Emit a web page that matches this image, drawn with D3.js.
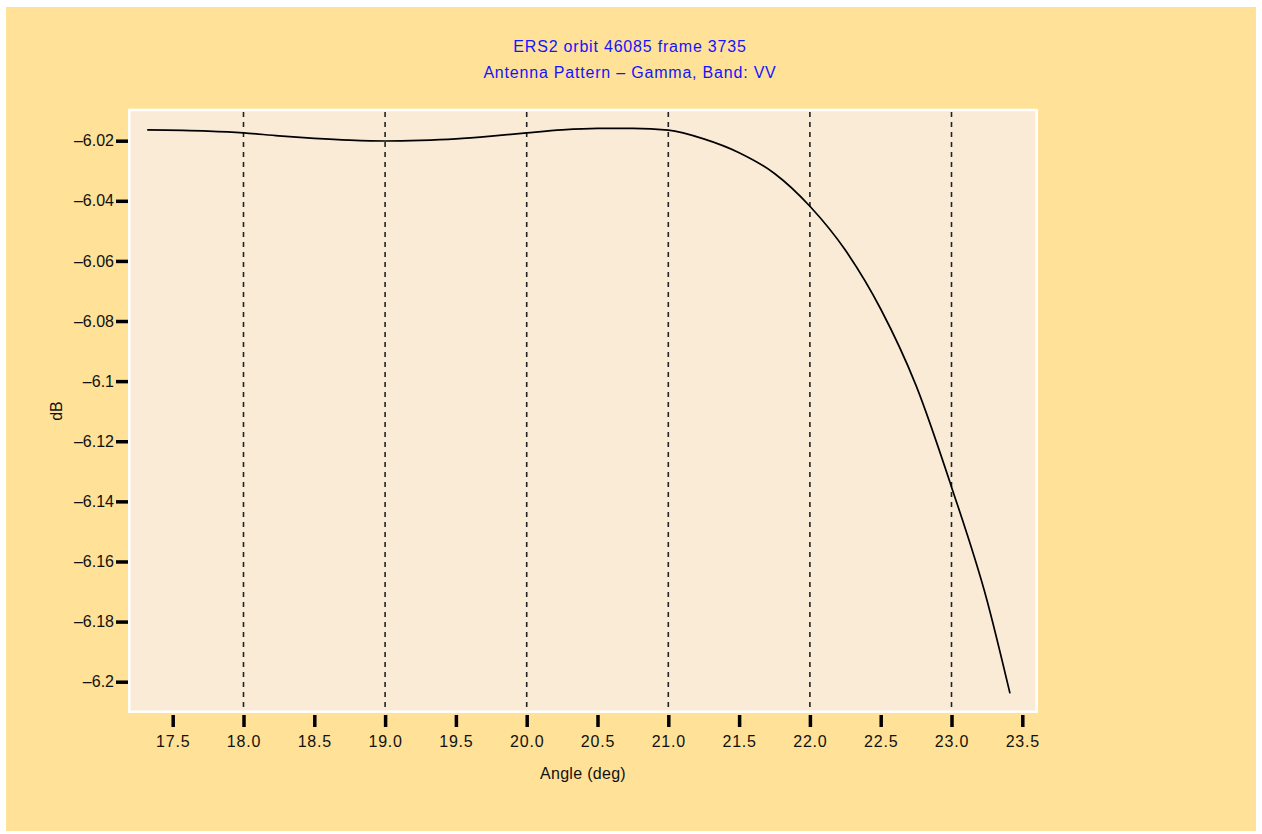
<!DOCTYPE html>
<html>
<head>
<meta charset="utf-8">
<script src="https://cdn.jsdelivr.net/npm/d3@7"></script>
<style>
  html, body { margin: 0; padding: 0; background: #ffffff; }
  svg { display: block; }
  text { font-family: "Liberation Sans", Arial, Helvetica, sans-serif; }
</style>
</head>
<body>
<svg id="chart" width="1262" height="834"></svg>
<script>
// ---- data ----
const titleLines = ["ERS2 orbit 46085 frame 3735", "Antenna Pattern \u2013 Gamma, Band: VV"];
const xAxisTitle = "Angle (deg)";
const yAxisTitle = "dB";
const angles = [17.32, 17.75, 18.0, 18.25, 18.5, 18.75, 19.0, 19.25, 19.5, 19.75, 20.0, 20.25, 20.5, 20.75,
  21.0, 21.25, 21.5, 21.75, 22.0, 22.25, 22.5, 22.75, 23.0, 23.25, 23.413];
const gainDb = [-6.0164, -6.0168, -6.0174, -6.0184, -6.0192, -6.0198, -6.0201, -6.0199, -6.0194, -6.0185,
  -6.0174, -6.0164, -6.0159, -6.0159, -6.0165, -6.0194, -6.0240, -6.0309, -6.0418, -6.0564, -6.0760,
  -6.1015, -6.1352, -6.1728, -6.2039];
const xTicks = [17.5, 18.0, 18.5, 19.0, 19.5, 20.0, 20.5, 21.0, 21.5, 22.0, 22.5, 23.0, 23.5];
const xTickLabels = ["17.5", "18.0", "18.5", "19.0", "19.5", "20.0", "20.5", "21.0", "21.5", "22.0", "22.5", "23.0", "23.5"];
const yTicks = [-6.02, -6.04, -6.06, -6.08, -6.1, -6.12, -6.14, -6.16, -6.18, -6.2];
const yTickLabels = ["\u20136.02", "\u20136.04", "\u20136.06", "\u20136.08", "\u20136.1", "\u20136.12", "\u20136.14", "\u20136.16", "\u20136.18", "\u20136.2"];
const gridX = [18, 19, 20, 21, 22, 23];

// ---- layout ----
const svg = d3.select("#chart");
const plot = { left: 129.3, right: 1036.7, top: 110, bottom: 711.7 };

svg.append("rect").attr("x", 6).attr("y", 7).attr("width", 1250).attr("height", 824).attr("fill", "#FFE197");

const x = d3.scaleLinear().domain([17.1935, 23.6017]).range([plot.left, plot.right]);
const y = d3.scaleLinear().domain([-6.20998, -6.00979]).range([plot.bottom, plot.top]);

svg.append("rect")
  .attr("x", plot.left).attr("y", plot.top)
  .attr("width", plot.right - plot.left).attr("height", plot.bottom - plot.top)
  .attr("fill", "#FAEBD7").attr("stroke", "#ffffff").attr("stroke-width", 2.5);

// grid
svg.append("g").selectAll("line").data(gridX).join("line")
  .attr("x1", d => x(d)).attr("x2", d => x(d))
  .attr("y1", plot.top + 2).attr("y2", plot.bottom - 1)
  .attr("stroke", "#222").attr("stroke-width", 1.6).attr("stroke-dasharray", "5,5");

// axes
const xAxis = d3.axisBottom(x).tickValues(xTicks).tickSize(12).tickPadding(9)
  .tickFormat((d, i) => xTickLabels[i]);
const gx = svg.append("g").attr("transform", `translate(0,${plot.bottom + 3.3})`).call(xAxis);
gx.select(".domain").remove();
gx.selectAll(".tick line").attr("stroke", "#000").attr("stroke-width", 3.5);
gx.selectAll(".tick text").attr("font-size", 16).attr("letter-spacing", 0.8).attr("fill", "#111");

const yAxis = d3.axisLeft(y).tickValues(yTicks).tickSize(12).tickPadding(2)
  .tickFormat((d, i) => yTickLabels[i]);
const gy = svg.append("g").attr("transform", `translate(${plot.left - 1.3},0)`).call(yAxis);
gy.select(".domain").remove();
gy.selectAll(".tick line").attr("stroke", "#000").attr("stroke-width", 3.5);
gy.selectAll(".tick text").attr("font-size", 16).attr("fill", "#111");

// curve
const line = d3.line().x((d, i) => x(angles[i])).y(d => y(d)).curve(d3.curveMonotoneX);
svg.append("path").datum(gainDb).attr("d", line)
  .attr("fill", "none").attr("stroke", "#000").attr("stroke-width", 1.7);

// titles
svg.append("g").selectAll("text").data(titleLines).join("text")
  .attr("x", 630).attr("y", (d, i) => 51.5 + i * 26)
  .attr("text-anchor", "middle").attr("font-size", 16).attr("letter-spacing", 0.8).attr("fill", "#1414ff")
  .text(d => d);

svg.append("text").attr("x", 583).attr("y", 779).attr("text-anchor", "middle")
  .attr("font-size", 16).attr("letter-spacing", 0.3).attr("fill", "#111").text(xAxisTitle);

svg.append("text").attr("transform", "translate(62,411) rotate(-90)").attr("text-anchor", "middle")
  .attr("font-size", 16).attr("fill", "#111").text(yAxisTitle);
</script>
</body>
</html>
